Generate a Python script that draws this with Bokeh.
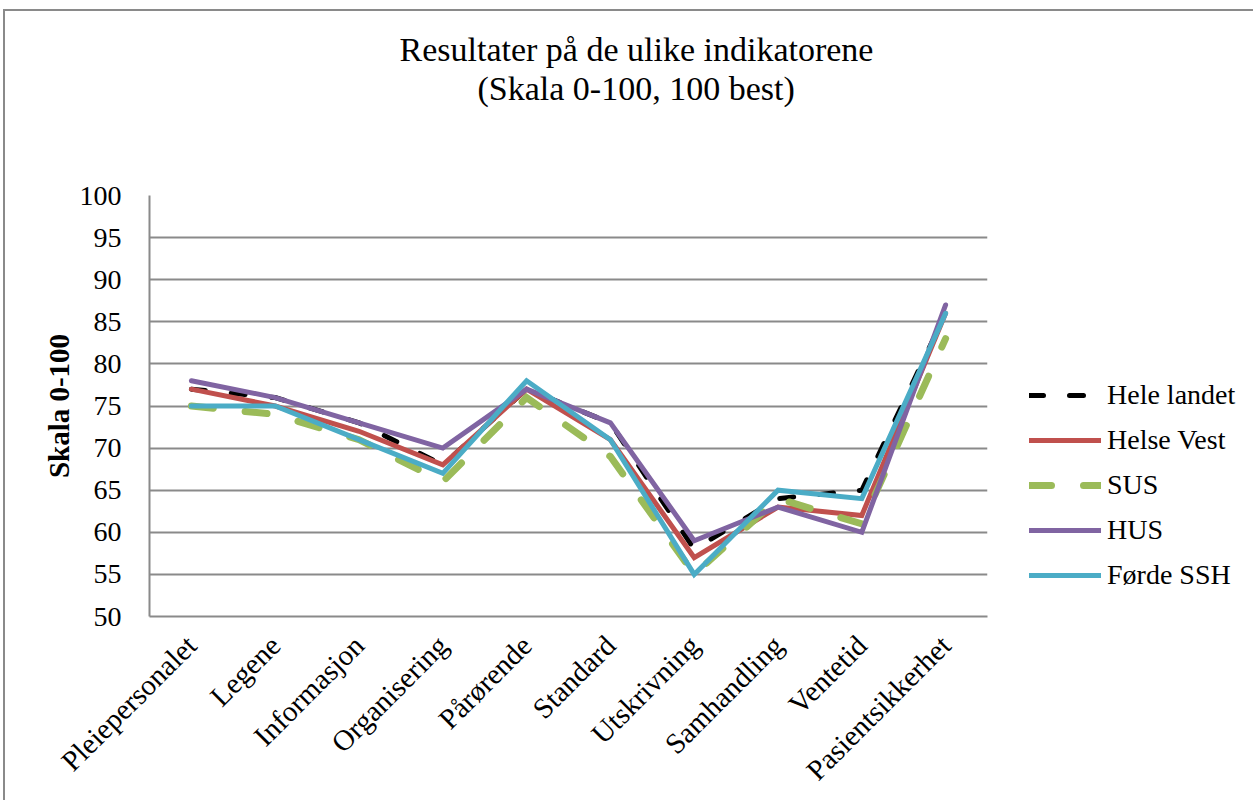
from bokeh.plotting import figure
from bokeh.models import FactorRange, Range1d, Legend, LegendItem, Title, FixedTicker
from bokeh.embed import file_html
from bokeh.resources import INLINE
import math

categories = ["Pleiepersonalet", "Legene", "Informasjon", "Organisering", "Pårørende",
              "Standard", "Utskrivning", "Samhandling", "Ventetid", "Pasientsikkerhet"]
hele_landet = [77, 76, 73, 68, 77, 73, 58, 64, 65, 86]
helse_vest = [77, 75, 72, 68, 77, 71, 57, 63, 62, 86]
sus = [75, 74, 71, 66, 76, 69, 55, 64, 61, 83]
hus = [78, 76, 73, 70, 77, 73, 59, 63, 60, 87]
forde = [75, 75, 71, 67, 78, 71, 55, 65, 64, 86]
series_names = ["Hele landet", "Helse Vest", "SUS", "HUS", "Førde SSH"]
y_ticks = [50, 55, 60, 65, 70, 75, 80, 85, 90, 95, 100]
title_lines = ["Resultater på de ulike indikatorene", "(Skala 0-100, 100 best)"]

FONT = "Liberation Serif"
GRID = "#8a8a8a"

p = figure(x_range=FactorRange(*categories, range_padding=0),
           y_range=Range1d(50, 100),
           frame_width=838, frame_height=421,
           min_border_left=144, min_border_top=184, min_border_right=263, min_border_bottom=183,
           output_backend="svg", toolbar_location=None,
           styles={"border-top": "2px solid #8a8a8a", "border-left": "2px solid #8a8a8a",
                   "margin-left": "3px", "margin-top": "9px"})

# titles stacked outward from the frame: spacer, line 2, line 1, spacer
p.add_layout(Title(text=" ", text_font_size="10px", standoff=76), "above")
p.add_layout(Title(text=title_lines[1], align="left", offset=328, text_font=FONT,
                   text_font_size="34px", text_font_style="normal", text_color="black",
                   standoff=0), "above")
p.add_layout(Title(text=title_lines[0], align="left", offset=250, text_font=FONT,
                   text_font_size="34px", text_font_style="normal", text_color="black",
                   standoff=0), "above")
p.add_layout(Title(text=" ", text_font_size="10px", standoff=4), "above")

p.background_fill_color = "white"
p.border_fill_color = "white"
p.outline_line_color = None

p.xgrid.grid_line_color = None
p.ygrid.grid_line_color = GRID
p.ygrid.grid_line_width = 2
p.yaxis.ticker = FixedTicker(ticks=y_ticks)
p.yaxis.major_tick_line_color = None
p.yaxis.minor_tick_line_color = None
p.yaxis.axis_line_color = GRID
p.yaxis.axis_line_width = 2
p.yaxis.major_label_text_font = FONT
p.yaxis.major_label_text_font_size = "28px"
p.yaxis.major_label_text_color = "black"
p.yaxis.major_label_standoff = 22
p.yaxis.axis_label = "Skala 0-100"
p.yaxis.axis_label_text_font = FONT
p.yaxis.axis_label_text_font_size = "29px"
p.yaxis.axis_label_text_font_style = "bold"
p.yaxis.axis_label_text_color = "black"
p.yaxis.axis_label_standoff = 2

p.xaxis.major_tick_line_color = None
p.xaxis.axis_line_color = GRID
p.xaxis.axis_line_width = 2
p.xaxis.major_label_orientation = math.pi / 4
p.xaxis.major_label_text_font = FONT
p.xaxis.major_label_text_font_size = "29px"
p.xaxis.major_label_text_color = "black"
p.xaxis.major_label_standoff = 18

styles = [
    dict(color="black", width=5, dash="14 26"),
    dict(color="#C0504D", width=5, dash="solid"),
    dict(color="#9BBB59", width=7, dash="22 32"),
    dict(color="#8064A2", width=5, dash="solid"),
    dict(color="#4BACC6", width=5, dash="solid"),
]
data = [hele_landet, helse_vest, sus, hus, forde]
items = []
for name, vals, st in zip(series_names, data, styles):
    r = p.line(categories, vals, line_color=st["color"], line_width=st["width"],
               line_dash=st["dash"], line_cap="round", line_join="miter")
    items.append(LegendItem(label=name, renderers=[r]))

legend = Legend(items=items, location=(42, 25), border_line_color=None,
                background_fill_alpha=0, glyph_width=72, glyph_height=20,
                label_height=20, spacing=13, label_standoff=6,
                label_text_font=FONT, label_text_font_size="28px", label_text_color="black",
                padding=0, margin=0)
p.add_layout(legend, "right")

open("out.html", "w").write(file_html(p, INLINE))
